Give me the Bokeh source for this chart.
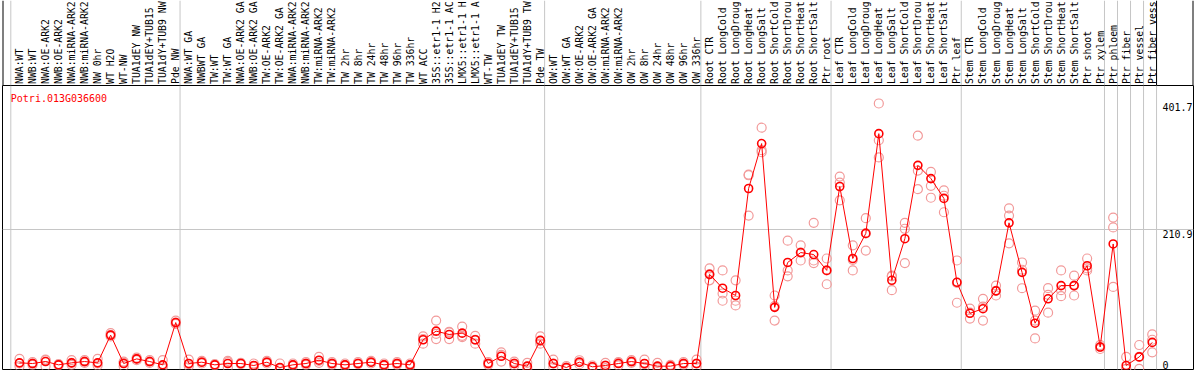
import numpy as np
from bokeh.plotting import figure
from bokeh.layouts import column
from bokeh.models import Range1d
from bokeh.core.properties import value
from bokeh.embed import file_html
from bokeh.resources import INLINE

# ---------------- data ----------------
gene = "Potri.013G036600"

samples = [
    "NWA:WT", "NWB:WT", "NWA:OE-ARK2", "NWB:OE-ARK2", "NWA:miRNA-ARK2", "NWB:miRNA-ARK2",
    "NW 0hr", "WT H2O", "WT-NW", "TUA1dEY NW", "TUA1dEY+TUB15 NW", "TUA1dY+TUB9 NW", "Pde NW",
    "NWA:WT GA", "NWBWT GA", "TW:WT", "TW:WT GA", "NWA:OE-ARK2 GA", "NWB:OE-ARK2 GA",
    "TW:OE-ARK2", "TW:OE-ARK2 GA", "NWA:miRNA-ARK2", "NWB:miRNA-ARK2", "TW:miRNA-ARK2",
    "TW:miRNA-ARK2", "TW 2hr", "TW 8hr", "TW 24hr", "TW 48hr", "TW 96hr", "TW 336hr",
    "WT ACC", "35S::etr1-1 H2O", "35S::etr1-1 ACC", "LMX5::etr1-1 H2O", "LMX5::etr1-1 ACC",
    "WT-TW", "TUA1dEY TW", "TUA1dEY+TUB15 TW", "TUA1dY+TUB9 TW", "Pde TW",
    "OW:WT", "OW:WT GA", "OW:OE-ARK2", "OW:OE-ARK2 GA", "OW:miRNA-ARK2", "OW:miRNA-ARK2",
    "OW 2hr", "OW 8hr", "OW 24hr", "OW 48hr", "OW 96hr", "OW 336hr",
    "Root CTR", "Root LongCold", "Root LongDrought", "Root LongHeat", "Root LongSalt",
    "Root ShortCold", "Root ShortDrought", "Root ShortHeat", "Root ShortSalt", "Ptr root",
    "Leaf CTR", "Leaf LongCold", "Leaf LongDrought", "Leaf LongHeat", "Leaf LongSalt",
    "Leaf ShortCold", "Leaf ShortDrought", "Leaf ShortHeat", "Leaf ShortSalt", "Ptr leaf",
    "Stem CTR", "Stem LongCold", "Stem LongDrought", "Stem LongHeat", "Stem LongSalt",
    "Stem ShortCold", "Stem ShortDrought", "Stem ShortHeat", "Stem ShortSalt", "Ptr shoot",
    "Ptr xylem", "Ptr phloem", "Ptr fiber", "Ptr vessel", "Ptr fiber vessel",
]

group_sizes = [13, 28, 12, 10, 10, 11, 1, 1, 1, 1]

means = [
    9, 8, 11, 6, 9, 11, 9, 51, 8, 15, 11, 6, 70,
    8, 10, 6, 8, 8, 5, 10, 2, 6, 8, 13, 8, 6, 8, 10, 6, 8, 6, 44, 57, 52, 54, 44, 8, 19, 8, 4, 43,
    8, 2, 10, 3, 5, 8, 11, 8, 4, 4, 8, 8,
    143, 122, 111, 273, 341, 93, 161, 176, 173, 149,
    276, 167, 205, 356, 134, 197, 308, 288, 258, 131,
    84, 91, 118, 221, 146, 69, 106, 126, 126, 156, 33,
    189, 5, 18, 40,
]

rep1 = [
    15, 10, 14, 7, 13, 13, 15, 54, 11, 17, 13, 13, 73,
    14, 12, 7, 12, 9, 8, 12, 8, 8, 10, 18, 10, 8, 10, 12, 8, 10, 8, 49, 73, 55, 64, 50, 10, 25, 11, 9, 49,
    14, 4, 13, 5, 9, 10, 13, 14, 9, 6, 10, 14,
    152, 149, 134, 293, 365, 111, 194, 187, 221, 167,
    291, 187, 228, 401.7, 141, 221, 353, 298, 270, 164,
    91, 106, 126, 243, 161, 88, 122, 149, 141, 167, 36,
    229, 18, 36, 52,
]

rep2 = [
    8, 8, 13, 6, 9, 11, 8, 51, 9, 15, 11, 4, 70,
    7, 10, 6, 10, 8, 4, 10, 0, 6, 8, 12, 8, 6, 8, 10, 6, 8, 6, 45, 53, 56, 50, 44, 8, 21, 8, 3, 42,
    8, 2, 10, 3, 5, 9, 11, 7, 3, 4, 8, 8,
    143, 114, 103, 294, 328, 95, 149, 176, 164, 149,
    282, 165, 205, 346, 140, 212, 300, 277, 262, 130,
    85, 94, 118, 232, 150, 73, 112, 119, 126, 152, 33,
    214, 0, 18, 44,
]

rep3 = [
    4, 6, 4, 5, 6, 9, 5, 49, 4, 13, 9, 2, 68,
    4, 8, 5, 2, 7, 3, 8, 0, 4, 6, 9, 6, 4, 7, 8, 4, 6, 4, 38, 45, 45, 48, 38, 6, 11, 5, 0, 38,
    3, 0, 7, 1, 1, 5, 9, 3, 1, 2, 6, 3,
    134, 103, 96, 232, 331, 73, 140, 164, 160, 128,
    255, 149, 179, 320, 119, 160, 272, 259, 237, 100,
    76, 73, 111, 190, 122, 46, 85, 110, 111, 149, 30,
    124, 0, 0, 25,
]

tick_values = [401.7, 210.9, 0]
tick_labels = ["401.7", "210.9", "0"]

# ---------------- layout constants (pixels) ----------------
W = 1194
H_HEAD = 85          # header band with the sample names
H_MAIN = 285         # plotting band
COL_PX = 13.02       # width of one sample column
BOUND0_PX = 10.3     # canvas x of first column boundary
FRAME_L = 2
FRAME_R = 1
POINT_OFF = (19.0 - BOUND0_PX) / COL_PX
Y0_PX = 368.3 - H_HEAD   # zero line inside the main band
PX_PER_UNIT = 0.6605
MAIN_FRAME_H = H_MAIN - 1
LABEL_PX = 1162
MAX_CHARS = 14       # the header band only has room for this many characters

FONT = value("DejaVu Sans Mono")
GRAY = "#c6c6c6"

x_start = (FRAME_L - BOUND0_PX) / COL_PX
x_end = x_start + (W - FRAME_L - FRAME_R) / COL_PX
xr = Range1d(x_start, x_end)

y_top = Y0_PX / PX_PER_UNIT
y_bot = (Y0_PX - MAIN_FRAME_H) / PX_PER_UNIT
yr = Range1d(y_bot, y_top)

n = len(samples)
xs = np.arange(n) + POINT_OFF
bounds = np.concatenate([[0], np.cumsum(group_sizes)]).astype(float)
shown_names = [s[:MAX_CHARS].rstrip() for s in samples]


def make_fig(height, y_range, mb_bottom):
    f = figure(width=W, height=height, x_range=xr, y_range=y_range,
               toolbar_location=None, output_backend="svg",
               x_axis_location=None, y_axis_location=None,
               min_border_left=FRAME_L, min_border_right=FRAME_R,
               min_border_top=0, min_border_bottom=mb_bottom)
    f.grid.visible = False
    f.background_fill_color = "white"
    f.border_fill_color = "white"
    return f


# ---------------- header ----------------
h = make_fig(H_HEAD, Range1d(0, H_HEAD), 0)
h.outline_line_color = None
h.segment(x0=bounds, y0=0, x1=bounds, y1=H_HEAD, line_color=GRAY, line_width=1)
h.segment(x0=[bounds[-1]], y0=[0], x1=[bounds[-1]], y1=[H_HEAD], line_color="black", line_width=1)
h.segment(x0=[x_start, x_end], y0=[0, 0], x1=[x_start, x_end], y1=[H_HEAD, H_HEAD],
          line_color="black", line_width=2)
h.text(x=xs, y=1.5, text=shown_names, angle=np.pi / 2, text_align="left", text_baseline="middle",
       text_font=FONT, text_font_size="9.8px", text_color="black")

# ---------------- main plot ----------------
p = make_fig(H_MAIN, yr, 1)
p.outline_line_color = "black"
p.outline_line_width = 1

p.segment(x0=bounds, y0=y_bot, x1=bounds, y1=y_top, line_color=GRAY, line_width=1)
p.segment(x0=[x_start], y0=[tick_values[1]], x1=[x_end], y1=[tick_values[1]],
          line_color=GRAY, line_width=1)

for rep in (rep1, rep2, rep3):
    p.scatter(xs, rep, marker="circle", size=9, fill_color=None,
              line_color="#f29a9a", line_width=1.2)

p.line(xs, means, line_color="#ff0000", line_width=1)
p.scatter(xs, means, marker="circle", size=8, fill_color=None,
          line_color="#ff0000", line_width=1.6)

title_y = (Y0_PX - (92.5 - H_HEAD)) / PX_PER_UNIT
p.text(x=[0], y=[title_y], text=[gene], text_align="left", text_baseline="top",
       text_font=FONT, text_font_size="10px", text_color="#ff0000")

lab_x = (LABEL_PX - BOUND0_PX) / COL_PX
p.text(x=[lab_x, lab_x], y=tick_values[:2], text=tick_labels[:2], text_align="left",
       text_baseline="top", text_font=FONT, text_font_size="10px", text_color="black")
p.text(x=[lab_x], y=[tick_values[2]], text=[tick_labels[2]], text_align="left",
       text_baseline="bottom", text_font=FONT, text_font_size="10px", text_color="black")

layout = column(h, p, spacing=0)

open("out.html", "w").write(file_html(layout, INLINE))
